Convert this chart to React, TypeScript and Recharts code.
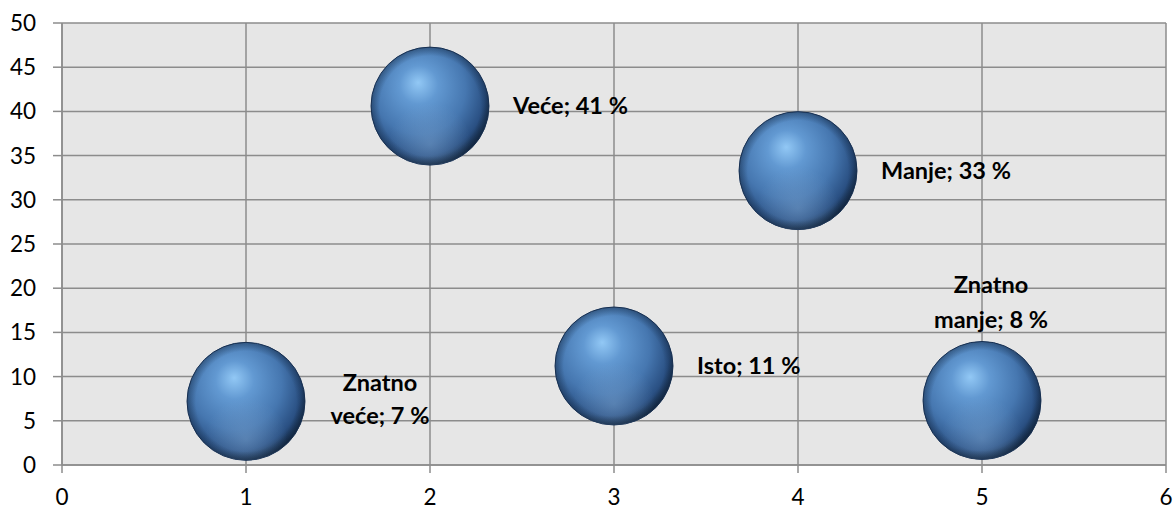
import React from "react";
import { ScatterChart, Scatter, XAxis, YAxis, ZAxis, CartesianGrid } from "recharts";

// categories and values
const categories = ["Znatno veće", "Veće", "Isto", "Manje", "Znatno manje"];
const xValues = [1, 2, 3, 4, 5];
const yValues = [7.2, 40.6, 11.2, 33.3, 7.3];
const percents = [7, 41, 11, 33, 8];
const labelLines = [
    ["Znatno", "veće; 7 %"],
    ["Veće; 41 %"],
    ["Isto; 11 %"],
    ["Manje; 33 %"],
    ["Znatno", "manje; 8 %"],
];
const labelSide = ["right-wrap", "right", "right", "right", "top"];
const xTicks = [0, 1, 2, 3, 4, 5, 6];
const yTicks = [0, 5, 10, 15, 20, 25, 30, 35, 40, 45, 50];

const BUBBLE_R = 59;
const FONT = "Lato, 'Open Sans', sans-serif";

const data = categories.map((name, i) => ({
    name,
    x: xValues[i],
    y: yValues[i],
    z: percents[i],
    lines: labelLines[i],
    side: labelSide[i],
}));

function Sphere(props: any) {
    const { cx, cy, payload } = props;
    if (cx == null || cy == null) return null;
    const r = BUBBLE_R;
    const lines: string[] = payload.lines;
    let texts: React.ReactNode = null;
    const style = { fontFamily: FONT, fontWeight: 700, fontSize: 23.5, fill: "#000" };

    if (payload.side === "right") {
        texts = (
            <text x={cx + r + 24} y={cy + 2} dominantBaseline="middle" textAnchor="start" style={style}>
                {lines[0]}
            </text>
        );
    } else if (payload.side === "right-wrap") {
        texts = lines.map((l, i) => (
            <text key={i} x={cx + 134} y={cy - 16 + i * 33} dominantBaseline="middle" textAnchor="middle" style={style}>
                {l}
            </text>
        ));
    } else {
        texts = lines.map((l, i) => (
            <text key={i} x={cx + 9} y={cy - 113 + i * 35} dominantBaseline="middle" textAnchor="middle" style={style}>
                {l}
            </text>
        ));
    }

    return (
        <g>
            <circle cx={cx} cy={cy} r={r} fill="url(#sphereBase)" stroke="#1d375c" strokeWidth={1} />
            <circle cx={cx} cy={cy} r={r} fill="url(#sphereShine)" />
            <circle cx={cx} cy={cy} r={r} fill="url(#sphereRim)" />
            {texts}
        </g>
    );
}

export default function App() {
    return (
        <div style={{ position: "absolute", left: 0, top: 0, width: 1176, height: 511, background: "#fff" }}>
            <ScatterChart width={1176} height={511} margin={{ top: 23, right: 10, bottom: 0, left: 0 }}>
                <defs>
                    <radialGradient id="sphereBase" cx="0.42" cy="0.38" r="0.65" fx="0.4" fy="0.3">
                        <stop offset="0%" stopColor="#92c8f5" />
                        <stop offset="25%" stopColor="#6299d2" />
                        <stop offset="60%" stopColor="#4677b0" />
                        <stop offset="85%" stopColor="#2a5083" />
                        <stop offset="100%" stopColor="#12263f" />
                    </radialGradient>
                    <radialGradient id="sphereShine" cx="0.5" cy="0.82" r="0.35">
                        <stop offset="0%" stopColor="#7fa6d0" stopOpacity={0.45} />
                        <stop offset="100%" stopColor="#7fa6d0" stopOpacity={0} />
                    </radialGradient>
                    <radialGradient id="sphereRim" cx="0.5" cy="0.5" r="0.5">
                        <stop offset="85%" stopColor="#0d1e33" stopOpacity={0} />
                        <stop offset="100%" stopColor="#0d1e33" stopOpacity={0.4} />
                    </radialGradient>
                </defs>
                <CartesianGrid
                    fill="#e6e6e6"
                    stroke="#8c8c8c"
                    strokeWidth={1.5}
                    horizontalValues={yTicks}
                    verticalValues={xTicks}
                />
                <XAxis
                    type="number"
                    dataKey="x"
                    domain={[0, 6]}
                    ticks={xTicks}
                    height={46}
                    tickSize={8}
                    tickMargin={16}
                    stroke="#8c8c8c"
                    strokeWidth={1.5}
                    tick={{ fill: "#000", fontSize: 22.5, fontFamily: FONT }}
                    allowDataOverflow
                />
                <YAxis
                    type="number"
                    dataKey="y"
                    domain={[0, 50]}
                    ticks={yTicks}
                    width={62}
                    tickSize={9}
                    tickMargin={17}
                    stroke="#8c8c8c"
                    strokeWidth={1.5}
                    tick={{ fill: "#000", fontSize: 22.5, fontFamily: FONT }}
                    allowDataOverflow
                />
                <ZAxis type="number" dataKey="z" range={[10900, 10900]} />
                <Scatter data={data} shape={Sphere} isAnimationActive={false} />
            </ScatterChart>
        </div>
    );
}
